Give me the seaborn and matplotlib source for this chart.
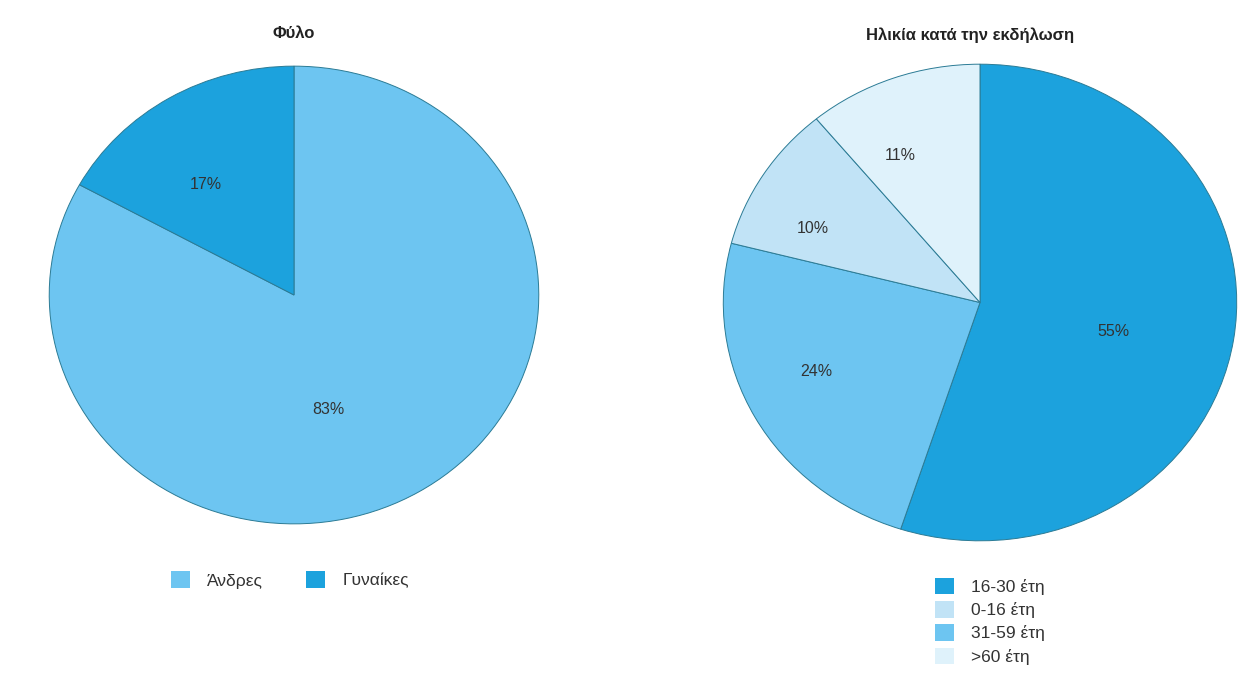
import matplotlib
matplotlib.use("Agg")
import matplotlib.pyplot as plt
import seaborn as sns
import numpy as np

# --- Datos ---
sex_labels = ["Άνδρες", "Γυναίκες"]
sex_values = [83, 17]

# orden de las porciones (en sentido horario desde arriba)
age_labels = ["16-30 έτη", "31-59 έτη", "0-16 έτη", ">60 έτη"]
age_values = [55, 24, 10, 11]
age_legend_order = [0, 2, 1, 3]

# posición de las etiquetas: (fracción del ángulo de la porción, radio)
sex_label_pos = [(0.45, 0.52), (0.60, 0.60)]
age_label_pos = [(0.48, 0.535), (0.45, 0.70), (0.69, 0.72), (0.68, 0.69)]

# --- Estilo ---
sns.set_style("white")
plt.rcParams["font.family"] = ["Liberation Sans", "DejaVu Sans"]

dark = "#1ca2dd"
mid = "#6dc5f1"
light = "#c1e3f6"
xlight = "#dff2fb"
edge = "#2b7b95"
txt = "#333333"

sex_colors = [mid, dark]
age_colors = [dark, mid, light, xlight]

W, H = 1249, 677
fig = plt.figure(figsize=(W / 100, H / 100), dpi=100)
fig.patch.set_facecolor("white")


def px_axes(left, top, right, bottom):
    return fig.add_axes([left / W, 1 - bottom / H, (right - left) / W, (bottom - top) / H])


def place_labels(wedges, texts, layout):
    for w, t, (frac, r) in zip(wedges, texts, layout):
        ang = np.deg2rad(w.theta1 + frac * (w.theta2 - w.theta1))
        t.set_position((r * np.cos(ang), r * np.sin(ang)))


# --- Pie izquierdo: Φύλο ---
ax1 = px_axes(48, 65, 540, 525)
w1, _, at1 = ax1.pie(sex_values, colors=sex_colors, startangle=90, counterclock=False,
                     autopct="%d%%",
                     wedgeprops=dict(edgecolor=edge, linewidth=0.7),
                     textprops=dict(color=txt, fontsize=11.5))
place_labels(w1, at1, sex_label_pos)
ax1.set_aspect("auto")
ax1.set_xlim(-1.005, 1.005)
ax1.set_ylim(-1.005, 1.005)
ax1.axis("off")
fig.text(294 / W, 1 - 33 / H, "Φύλο", ha="center", va="center",
         fontsize=12, fontweight="bold", color="#222222")
leg1 = fig.legend(w1, sex_labels, loc="center", bbox_to_anchor=(290 / W, 1 - 580 / H),
                  ncol=2, frameon=False, fontsize=12.5, handlelength=1.1, handleheight=1.1,
                  columnspacing=2.5, handletextpad=1.0, labelcolor=txt)
for h in leg1.legend_handles:
    h.set_edgecolor("none")

# --- Pie derecho: Ηλικία κατά την εκδήλωση ---
ax2 = px_axes(722, 63, 1238, 542)
w2, _, at2 = ax2.pie(age_values, colors=age_colors, startangle=90, counterclock=False,
                     autopct="%d%%",
                     wedgeprops=dict(edgecolor=edge, linewidth=0.7),
                     textprops=dict(color=txt, fontsize=11.5))
place_labels(w2, at2, age_label_pos)
ax2.set_aspect("auto")
ax2.set_xlim(-1.005, 1.005)
ax2.set_ylim(-1.005, 1.005)
ax2.axis("off")
fig.text(970 / W, 1 - 35 / H, "Ηλικία κατά την εκδήλωση", ha="center", va="center",
         fontsize=12, fontweight="bold", color="#222222")
leg2 = fig.legend([w2[i] for i in age_legend_order], [age_labels[i] for i in age_legend_order],
                  loc="upper left", bbox_to_anchor=(919 / W, 1 - 562 / H),
                  ncol=1, frameon=False, fontsize=12.5, handlelength=1.1, handleheight=1.1,
                  handletextpad=1.0, labelspacing=0.35, labelcolor=txt)
for h in leg2.legend_handles:
    h.set_edgecolor("none")

fig.savefig("out.png", dpi=100, facecolor="white")
